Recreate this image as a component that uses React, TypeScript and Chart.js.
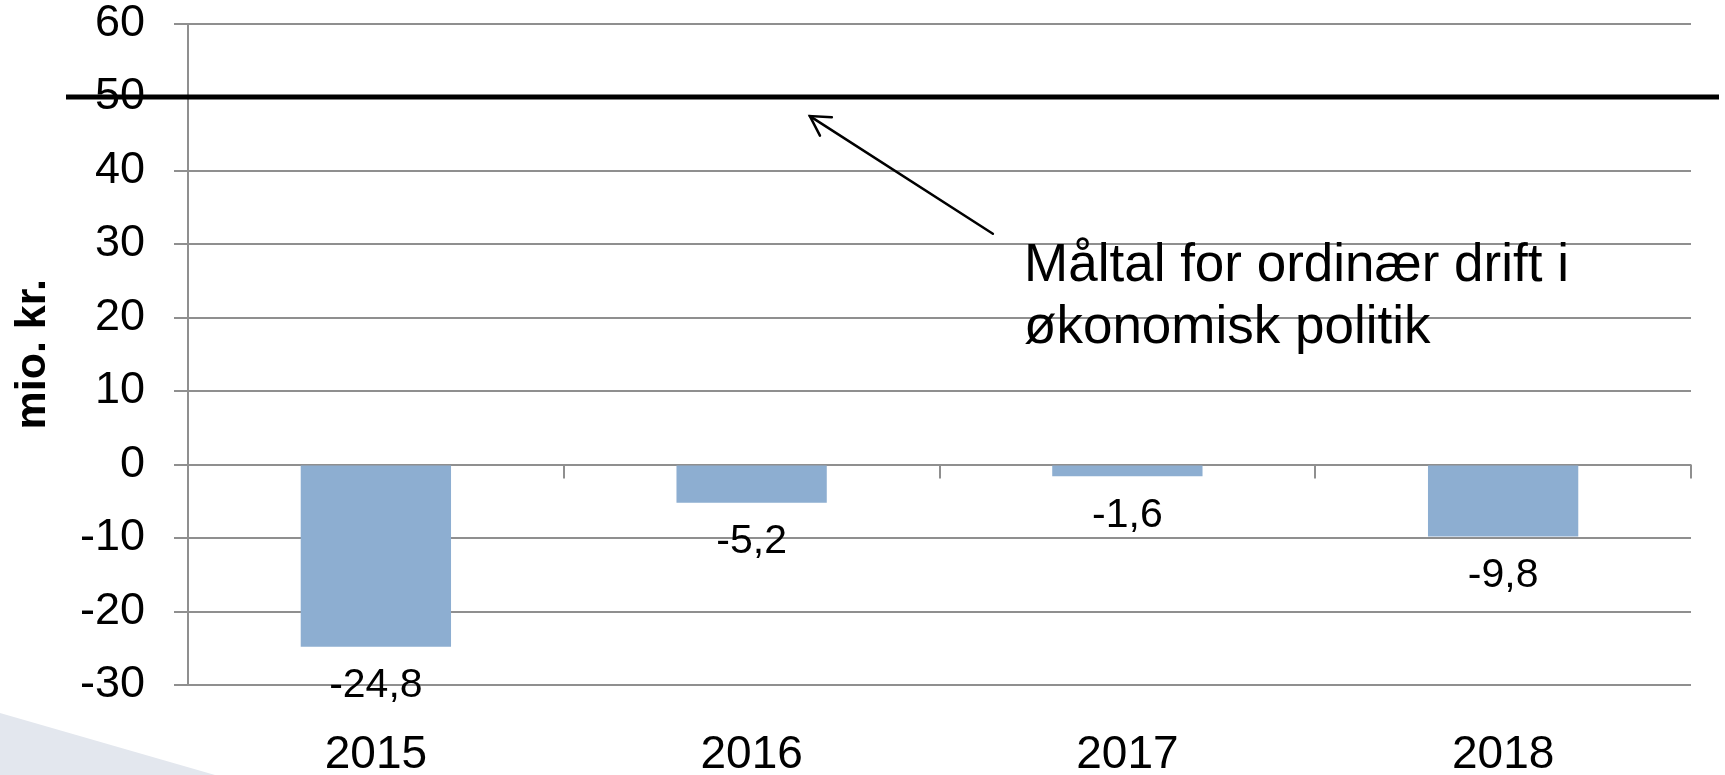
import React, { useEffect, useRef } from "react";
import { Chart, registerables } from "chart.js";

Chart.register(...registerables);

// ---- Data ----
const categories = ["2015", "2016", "2017", "2018"];
const values = [-24.8, -5.2, -1.6, -9.8];
const valueLabels = ["-24,8", "-5,2", "-1,6", "-9,8"];
const yMin = -30;
const yMax = 60;
const yStep = 10;
const yTitle = "mio. kr.";
const targetValue = 50;
const annotationLines = ["Måltal for ordinær drift i", "økonomisk politik"];
// annotation anchors in data coordinates (category index, value)
const arrowHead = [1.155, 47.4];
const arrowTail = [1.642, 31.4];
const textAnchor = [1.725, 25.0];
const textLineStep = 8.44; // value units between text baselines

const FONT = '"Liberation Sans", Arial, Helvetica, sans-serif';
const GRID = "#8f8f8f";
const BAR = "#8DAED1";

const overlay = {
  id: "overlay",
  beforeDraw(chart: any) {
    const { ctx, width, height } = chart;
    ctx.save();
    ctx.fillStyle = "#ffffff";
    ctx.fillRect(0, 0, width, height);
    ctx.fillStyle = "#E3E7EE";
    ctx.beginPath();
    ctx.moveTo(0, height - 62);
    ctx.lineTo(215, height);
    ctx.lineTo(0, height);
    ctx.closePath();
    ctx.fill();
    ctx.restore();
  },
  afterDatasetsDraw(chart: any) {
    const { ctx, chartArea } = chart;
    const xs = chart.scales.x;
    const ys = chart.scales.y;
    ctx.save();

    // category tick marks on the zero line
    const y0 = ys.getPixelForValue(0);
    const step = (chartArea.right - chartArea.left) / categories.length;
    ctx.strokeStyle = GRID;
    ctx.lineWidth = 2;
    for (let i = 1; i <= categories.length; i++) {
      const px = Math.round(chartArea.left + i * step);
      ctx.beginPath();
      ctx.moveTo(px, y0);
      ctx.lineTo(px, y0 + 14);
      ctx.stroke();
    }

    // value labels below bar ends
    ctx.fillStyle = "#000";
    ctx.font = `41px ${FONT}`;
    ctx.textAlign = "center";
    ctx.textBaseline = "middle";
    const meta = chart.getDatasetMeta(0);
    meta.data.forEach((bar: any, i: number) => {
      ctx.fillText(valueLabels[i], bar.x, bar.y + 39);
    });

    // target line
    const yt = ys.getPixelForValue(targetValue);
    ctx.strokeStyle = "#000";
    ctx.lineWidth = 5;
    ctx.beginPath();
    ctx.moveTo(chartArea.left - 122, yt);
    ctx.lineTo(chartArea.right + 28, yt);
    ctx.stroke();

    // arrow
    const hx = xs.getPixelForValue(arrowHead[0]);
    const hy = ys.getPixelForValue(arrowHead[1]);
    const tx = xs.getPixelForValue(arrowTail[0]);
    const ty = ys.getPixelForValue(arrowTail[1]);
    ctx.lineWidth = 2.5;
    ctx.lineCap = "round";
    ctx.beginPath();
    ctx.moveTo(tx, ty);
    ctx.lineTo(hx, hy);
    ctx.stroke();
    const ang = Math.atan2(ty - hy, tx - hx);
    const wing = 22;
    const spread = Math.PI / 6;
    ctx.beginPath();
    ctx.moveTo(hx + wing * Math.cos(ang - spread), hy + wing * Math.sin(ang - spread));
    ctx.lineTo(hx, hy);
    ctx.lineTo(hx + wing * Math.cos(ang + spread), hy + wing * Math.sin(ang + spread));
    ctx.stroke();

    // annotation text
    ctx.font = `53px ${FONT}`;
    ctx.textAlign = "left";
    ctx.textBaseline = "alphabetic";
    const ax = xs.getPixelForValue(textAnchor[0]);
    annotationLines.forEach((line, i) => {
      const ay = ys.getPixelForValue(textAnchor[1] - i * textLineStep);
      ctx.fillText(line, ax, ay);
    });

    ctx.restore();
  },
};

export default function App() {
  const ref = useRef<HTMLCanvasElement | null>(null);

  useEffect(() => {
    document.body.style.margin = "0";
    const canvas = ref.current!;
    const chart = new Chart(canvas, {
      type: "bar",
      data: {
        labels: categories,
        datasets: [
          {
            data: values,
            backgroundColor: BAR,
            borderWidth: 0,
            barPercentage: 0.4,
            categoryPercentage: 1.0,
          },
        ],
      },
      options: {
        responsive: false,
        animation: false,
        devicePixelRatio: 1,
        layout: {
          autoPadding: false,
          padding: { top: 23.5, right: 34, bottom: 0, left: 0 },
        },
        plugins: {
          legend: { display: false },
          tooltip: { enabled: false },
          title: { display: false },
        },
        scales: {
          x: {
            position: "bottom",
            grid: { display: false, drawTicks: false },
            border: { display: false },
            ticks: {
              color: "#000",
              font: { family: FONT, size: 46 },
              padding: 43,
              maxRotation: 0,
              autoSkip: false,
            },
            afterFit: (s: any) => {
              s.height = 90;
              s.paddingLeft = 0;
              s.paddingRight = 0;
            },
          },
          y: {
            min: yMin,
            max: yMax,
            grid: {
              color: GRID,
              lineWidth: 2,
              drawTicks: true,
              tickLength: 14,
              tickColor: GRID,
            },
            border: { display: true, color: GRID, width: 2 },
            ticks: {
              stepSize: yStep,
              color: "#000",
              font: { family: FONT, size: 45 },
              padding: 29,
            },
            title: {
              display: true,
              text: yTitle,
              color: "#000",
              font: { family: FONT, size: 43, weight: "bold" },
              padding: { top: 7, bottom: 0 },
            },
            afterFit: (s: any) => {
              s.width = 188;
              s.paddingTop = 0;
              s.paddingBottom = 0;
            },
          },
        },
      },
      plugins: [overlay],
    });
    return () => chart.destroy();
  }, []);

  return (
    <div style={{ width: 1725, height: 775 }}>
      <canvas ref={ref} width={1725} height={775} style={{ display: "block" }} />
    </div>
  );
}
